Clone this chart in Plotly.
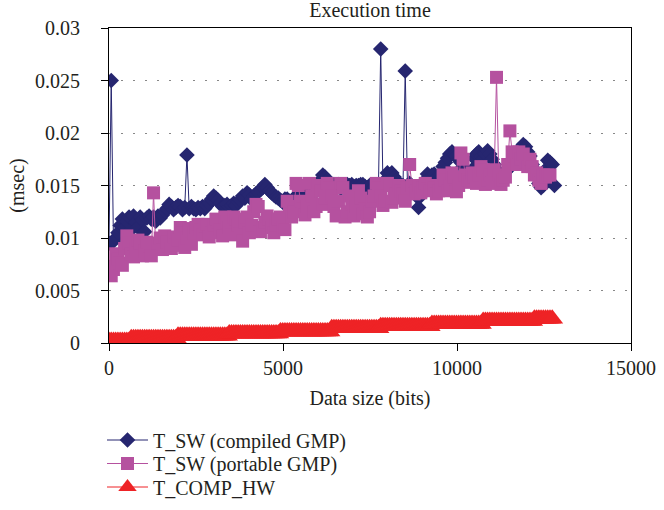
import plotly.graph_objects as go

data_size_bits = [
    0, 64, 128, 192, 256, 320, 384, 448, 512, 576,
    640, 704, 768, 832, 896, 960, 1024, 1088, 1152, 1216,
    1280, 1344, 1408, 1472, 1536, 1600, 1664, 1728, 1792, 1856,
    1920, 1984, 2048, 2112, 2176, 2240, 2304, 2368, 2432, 2496,
    2560, 2624, 2688, 2752, 2816, 2880, 2944, 3008, 3072, 3136,
    3200, 3264, 3328, 3392, 3456, 3520, 3584, 3648, 3712, 3776,
    3840, 3904, 3968, 4032, 4096, 4160, 4224, 4288, 4352, 4416,
    4480, 4544, 4608, 4672, 4736, 4800, 4864, 4928, 4992, 5056,
    5120, 5184, 5248, 5312, 5376, 5440, 5504, 5568, 5632, 5696,
    5760, 5824, 5888, 5952, 6016, 6080, 6144, 6208, 6272, 6336,
    6400, 6464, 6528, 6592, 6656, 6720, 6784, 6848, 6912, 6976,
    7040, 7104, 7168, 7232, 7296, 7360, 7424, 7488, 7552, 7616,
    7680, 7744, 7808, 7872, 7936, 8000, 8064, 8128, 8192, 8256,
    8320, 8384, 8448, 8512, 8576, 8640, 8704, 8768, 8832, 8896,
    8960, 9024, 9088, 9152, 9216, 9280, 9344, 9408, 9472, 9536,
    9600, 9664, 9728, 9792, 9856, 9920, 9984, 10048, 10112, 10176,
    10240, 10304, 10368, 10432, 10496, 10560, 10624, 10688, 10752, 10816,
    10880, 10944, 11008, 11072, 11136, 11200, 11264, 11328, 11392, 11456,
    11520, 11584, 11648, 11712, 11776, 11840, 11904, 11968, 12032, 12096,
    12160, 12224, 12288, 12352, 12416, 12480, 12544, 12608, 12672, 12736,
    12800,
]

t_sw_compiled = [
    0.0095, 0.0250, 0.0097, 0.0100, 0.0105, 0.0112, 0.0118, 0.0110, 0.0116, 0.0120,
    0.0108, 0.0121, 0.0115, 0.0110, 0.0120, 0.0117, 0.0106, 0.0119, 0.0121, 0.0118,
    0.0120, 0.0116, 0.0121, 0.0119, 0.0122, 0.0125, 0.0128, 0.0132, 0.0130, 0.0127,
    0.0129, 0.0131, 0.0130, 0.0127, 0.0129, 0.0179, 0.0128, 0.0130, 0.0128, 0.0127,
    0.0129, 0.0128, 0.0130, 0.0128, 0.0131, 0.0133, 0.0137, 0.0140, 0.0138, 0.0136,
    0.0133, 0.0130, 0.0131, 0.0132, 0.0130, 0.0131, 0.0133, 0.0131, 0.0134, 0.0136,
    0.0140, 0.0138, 0.0143, 0.0141, 0.0137, 0.0140, 0.0142, 0.0144, 0.0146, 0.0148,
    0.0151, 0.0148, 0.0145, 0.0143, 0.0141, 0.0139, 0.0138, 0.0136, 0.0134, 0.0137,
    0.0137, 0.0135, 0.0134, 0.0136, 0.0140, 0.0142, 0.0141, 0.0143, 0.0145, 0.0142,
    0.0138, 0.0135, 0.0131, 0.0133, 0.0150, 0.0155, 0.0160, 0.0158, 0.0155, 0.0152,
    0.0150, 0.0151, 0.0149, 0.0151, 0.0147, 0.0150, 0.0149, 0.0151, 0.0150, 0.0151,
    0.0149, 0.0150, 0.0150, 0.0151, 0.0151, 0.0149, 0.0148, 0.0150, 0.0145, 0.0148,
    0.0150, 0.0151, 0.0280, 0.0150, 0.0155, 0.0162, 0.0160, 0.0162, 0.0158, 0.0155,
    0.0150, 0.0148, 0.0150, 0.0259, 0.0150, 0.0152, 0.0148, 0.0146, 0.0140, 0.0129,
    0.0140, 0.0150, 0.0155, 0.0161, 0.0158, 0.0160, 0.0161, 0.0157, 0.0156, 0.0160,
    0.0168, 0.0172, 0.0176, 0.0180, 0.0182, 0.0179, 0.0178, 0.0175, 0.0172, 0.0168,
    0.0165, 0.0162, 0.0160, 0.0165, 0.0176, 0.0180, 0.0182, 0.0178, 0.0175, 0.0180,
    0.0183, 0.0180, 0.0175, 0.0170, 0.0165, 0.0162, 0.0160, 0.0161, 0.0163, 0.0165,
    0.0170, 0.0172, 0.0177, 0.0180, 0.0183, 0.0186, 0.0189, 0.0187, 0.0182, 0.0178,
    0.0170, 0.0165, 0.0158, 0.0152, 0.0148, 0.0150, 0.0165, 0.0174, 0.0172, 0.0170,
    0.0150,
]

t_sw_portable = [
    0.0073, 0.0064, 0.0070, 0.0085, 0.0080, 0.0076, 0.0074, 0.0090, 0.0102, 0.0095,
    0.0085, 0.0082, 0.0090, 0.0098, 0.0095, 0.0083, 0.0088, 0.0096, 0.0092, 0.0083,
    0.0143, 0.0090, 0.0095, 0.0100, 0.0089, 0.0102, 0.0096, 0.0092, 0.0090, 0.0101,
    0.0093, 0.0098, 0.0110, 0.0105, 0.0091, 0.0100, 0.0109, 0.0094, 0.0105, 0.0110,
    0.0113, 0.0108, 0.0103, 0.0111, 0.0113, 0.0101, 0.0105, 0.0112, 0.0118, 0.0115,
    0.0108, 0.0102, 0.0120, 0.0115, 0.0110, 0.0103, 0.0120, 0.0118, 0.0112, 0.0104,
    0.0097, 0.0115, 0.0120, 0.0105, 0.0112, 0.0125, 0.0132, 0.0130, 0.0106, 0.0110,
    0.0115, 0.0121, 0.0118, 0.0110, 0.0105, 0.0112, 0.0118, 0.0120, 0.0110, 0.0108,
    0.0135, 0.0130, 0.0120, 0.0125, 0.0152, 0.0150, 0.0135, 0.0128, 0.0122, 0.0130,
    0.0152, 0.0140, 0.0125, 0.0130, 0.0150, 0.0145, 0.0132, 0.0138, 0.0152, 0.0148,
    0.0140, 0.0130, 0.0121, 0.0135, 0.0152, 0.0148, 0.0120, 0.0125, 0.0140, 0.0132,
    0.0121, 0.0130, 0.0145, 0.0138, 0.0123, 0.0128, 0.0120, 0.0125, 0.0135, 0.0140,
    0.0152, 0.0148, 0.0140, 0.0131, 0.0135, 0.0152, 0.0150, 0.0134, 0.0138, 0.0142,
    0.0150, 0.0145, 0.0142, 0.0135, 0.0148, 0.0170, 0.0150, 0.0142, 0.0145, 0.0150,
    0.0143, 0.0148, 0.0152, 0.0147, 0.0145, 0.0150, 0.0148, 0.0142, 0.0145, 0.0150,
    0.0160, 0.0155, 0.0145, 0.0150, 0.0162, 0.0158, 0.0144, 0.0150, 0.0181, 0.0175,
    0.0160, 0.0155, 0.0153, 0.0162, 0.0158, 0.0152, 0.0160, 0.0168, 0.0165, 0.0151,
    0.0155, 0.0160, 0.0152, 0.0165, 0.0253, 0.0160, 0.0151, 0.0155, 0.0158, 0.0170,
    0.0202, 0.0182, 0.0178, 0.0170, 0.0182, 0.0175, 0.0180, 0.0172, 0.0168, 0.0175,
    0.0168, 0.0160, 0.0162, 0.0155, 0.0152, 0.0160, 0.0158, 0.0160, 0.0160, None,
    None,
]

t_comp_hw = [
    0.0002, 0.0002, 0.0002, 0.0002, 0.0002, 0.0002, 0.0002, 0.0002, 0.0002, 0.0002,
    0.00045, 0.00045, 0.00045, 0.00045, 0.00045, 0.00045, 0.00045, 0.00045, 0.00045, 0.00045,
    0.00045, 0.00045, 0.00045, 0.00045, 0.00045, 0.00045, 0.00045, 0.00045, 0.00045, 0.00045,
    0.00045, 0.0007, 0.0007, 0.0007, 0.0007, 0.0007, 0.0007, 0.0007, 0.0007, 0.0007,
    0.0007, 0.0007, 0.0007, 0.0007, 0.0007, 0.0007, 0.0007, 0.0007, 0.0007, 0.0007,
    0.0007, 0.0007, 0.0007, 0.0007, 0.0009, 0.0009, 0.0009, 0.0009, 0.0009, 0.0009,
    0.0009, 0.0009, 0.0009, 0.0009, 0.0009, 0.0009, 0.0009, 0.0009, 0.0009, 0.0009,
    0.0009, 0.0009, 0.0009, 0.0009, 0.0009, 0.0009, 0.0009, 0.0011, 0.0011, 0.0011,
    0.0011, 0.0011, 0.0011, 0.0011, 0.0011, 0.0011, 0.0011, 0.0011, 0.0011, 0.0011,
    0.0011, 0.0011, 0.0011, 0.0011, 0.0011, 0.0011, 0.0011, 0.0011, 0.0011, 0.0011,
    0.0014, 0.0014, 0.0014, 0.0014, 0.0014, 0.0014, 0.0014, 0.0014, 0.0014, 0.0014,
    0.0014, 0.0014, 0.0014, 0.0014, 0.0014, 0.0014, 0.0014, 0.0014, 0.0014, 0.0014,
    0.0014, 0.0014, 0.0016, 0.0016, 0.0016, 0.0016, 0.0016, 0.0016, 0.0016, 0.0016,
    0.0016, 0.0016, 0.0016, 0.0016, 0.0016, 0.0016, 0.0016, 0.0016, 0.0016, 0.0016,
    0.0016, 0.0016, 0.0016, 0.0016, 0.0016, 0.0018, 0.0018, 0.0018, 0.0018, 0.0018,
    0.0018, 0.0018, 0.0018, 0.0018, 0.0018, 0.0018, 0.0018, 0.0018, 0.0018, 0.0018,
    0.0018, 0.0018, 0.0018, 0.0018, 0.0018, 0.0018, 0.0018, 0.0018, 0.0021, 0.0021,
    0.0021, 0.0021, 0.0021, 0.0021, 0.0021, 0.0021, 0.0021, 0.0021, 0.0021, 0.0021,
    0.0021, 0.0021, 0.0021, 0.0021, 0.0021, 0.0021, 0.0021, 0.0021, 0.0021, 0.0021,
    0.0021, 0.0023, 0.0023, 0.0023, 0.0023, 0.0023, 0.0023, 0.0023, 0.0023, 0.0023,
    None,
]

series_names = ["T_SW (compiled GMP)", "T_SW (portable GMP)", "T_COMP_HW"]
x_ticks = [0, 5000, 10000, 15000]
x_tick_text = ["0", "5000", "10000", "15000"]
y_ticks = [0, 0.005, 0.01, 0.015, 0.02, 0.025, 0.03]
y_tick_text = ["0", "0.005", "0.01", "0.015", "0.02", "0.025", "0.03"]

FONT = "Liberation Serif"
TXT = "#231f20"
BLUE = "#262670"
MAGENTA = "#b5519f"
RED = "#ee2326"

PLOT_LEFT, PLOT_RIGHT = 109, 631
PLOT_TOP, PLOT_BOTTOM = 28, 343
PLOT_W = PLOT_RIGHT - PLOT_LEFT
PLOT_H = PLOT_BOTTOM - PLOT_TOP


def legend_y(px):
    return (PLOT_BOTTOM - px) / PLOT_H


fig = go.Figure()
fig.add_trace(go.Scatter(
    x=data_size_bits, y=t_sw_compiled, name=series_names[0], mode="lines+markers",
    line=dict(color=BLUE, width=1), legend="legend",
    marker=dict(symbol="diamond", size=12, color=BLUE),
))
fig.add_trace(go.Scatter(
    x=data_size_bits, y=t_sw_portable, name=series_names[1], mode="lines+markers",
    line=dict(color=MAGENTA, width=1), legend="legend2",
    marker=dict(symbol="square", size=13, color=MAGENTA),
))
fig.add_trace(go.Scatter(
    x=data_size_bits, y=t_comp_hw, name=series_names[2], mode="lines+markers",
    line=dict(color=RED, width=1), legend="legend3",
    marker=dict(symbol="triangle-up", size=19, color=RED),
))

leg_common = dict(x=(102 - PLOT_LEFT) / PLOT_W, xanchor="left", yanchor="middle",
                  itemwidth=41, bgcolor="rgba(0,0,0,0)",
                  font=dict(family=FONT, size=20, color=TXT))

fig.update_layout(
    width=664, height=510,
    margin=dict(l=PLOT_LEFT, r=664 - PLOT_RIGHT, t=PLOT_TOP, b=510 - PLOT_BOTTOM,
                autoexpand=False),
    paper_bgcolor="white", plot_bgcolor="white",
    font=dict(family=FONT, size=20, color=TXT),
    title=dict(text="Execution time", x=0.5, xref="paper", y=1 - 10 / 510,
               yref="container", xanchor="center", yanchor="middle",
               font=dict(family=FONT, size=20, color=TXT)),
    showlegend=True,
    legend=dict(y=legend_y(440), **leg_common),
    legend2=dict(y=legend_y(463.5), **leg_common),
    legend3=dict(y=legend_y(487), **leg_common),
    xaxis=dict(range=[0, 15000], tickvals=x_ticks, ticktext=x_tick_text,
               ticks="outside", ticklen=7, tickcolor="black", automargin=False,
               tickfont=dict(family=FONT, size=20, color=TXT), ticklabelstandoff=0,
               showline=True, linecolor="black", linewidth=1,
               mirror=True, showgrid=False, zeroline=False,
               title=dict(text="Data size (bits)", standoff=12,
                          font=dict(family=FONT, size=20, color=TXT))),
    yaxis=dict(range=[0, 0.03], tickvals=y_ticks, ticktext=y_tick_text,
               ticks="outside", ticklen=7, tickcolor="black", automargin=False,
               tickfont=dict(family=FONT, size=20, color=TXT), ticklabelstandoff=17,
               showline=True, linecolor="black", linewidth=1, mirror=True,
               showgrid=True, gridcolor="#888888", griddash="2px,10px", gridwidth=1,
               zeroline=False,
               title=dict(text="(msec)", standoff=5,
                          font=dict(family=FONT, size=20, color=TXT))),
)

fig.write_html("out.html", config={"displayModeBar": False},
               post_script="document.body.style.margin='0';")
